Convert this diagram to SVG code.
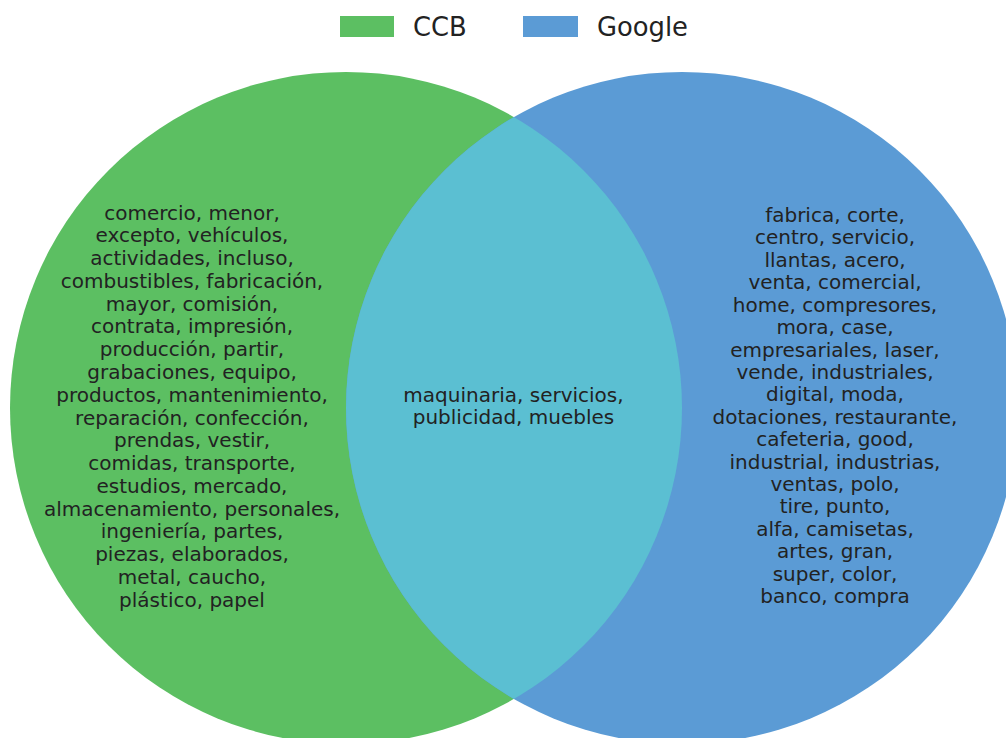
<svg xmlns="http://www.w3.org/2000/svg" width="1006" height="738" viewBox="0 0 1006 738">
  <style>
    .lbl { font-family: "DejaVu Sans", sans-serif; font-size: 20px; fill: #222222; text-anchor: middle; }
    .leg { font-family: "DejaVu Sans", sans-serif; font-size: 25.8px; fill: #222222; }
  </style>
  <defs>
    <clipPath id="clipLeft">
      <circle cx="346" cy="408" r="336"/>
    </clipPath>
  </defs>
  <rect width="1006" height="738" fill="#ffffff"/>

  <!-- legend -->
  <g id="legend">
    <rect x="340" y="16" width="54" height="21" fill="#5cbf62"/>
    <text class="leg" x="413" y="36">CCB</text>
    <rect x="523" y="16" width="55" height="21" fill="#5b9bd5"/>
    <text class="leg" x="597" y="36">Google</text>
  </g>

  <!-- CCB set -->
  <g id="ccb">
    <circle cx="346" cy="408" r="336" fill="#5cbf62"/>
    <g class="lbl">
      <text class="lbl" x="192" y="219.5">comercio, menor,</text>
      <text class="lbl" x="192" y="242.3">excepto, vehículos,</text>
      <text class="lbl" x="192" y="265.1">actividades, incluso,</text>
      <text class="lbl" x="192" y="287.8">combustibles, fabricación,</text>
      <text class="lbl" x="192" y="310.6">mayor, comisión,</text>
      <text class="lbl" x="192" y="333.4">contrata, impresión,</text>
      <text class="lbl" x="192" y="356.2">producción, partir,</text>
      <text class="lbl" x="192" y="378.9">grabaciones, equipo,</text>
      <text class="lbl" x="192" y="401.7">productos, mantenimiento,</text>
      <text class="lbl" x="192" y="424.5">reparación, confección,</text>
      <text class="lbl" x="192" y="447.3">prendas, vestir,</text>
      <text class="lbl" x="192" y="470.1">comidas, transporte,</text>
      <text class="lbl" x="192" y="492.8">estudios, mercado,</text>
      <text class="lbl" x="192" y="515.6">almacenamiento, personales,</text>
      <text class="lbl" x="192" y="538.4">ingeniería, partes,</text>
      <text class="lbl" x="192" y="561.2">piezas, elaborados,</text>
      <text class="lbl" x="192" y="583.9">metal, caucho,</text>
      <text class="lbl" x="192" y="606.7">plástico, papel</text>
    </g>
  </g>

  <!-- Google set -->
  <g id="google">
    <circle cx="682" cy="408" r="336" fill="#5b9bd5"/>
    <g>
      <text class="lbl" x="835" y="222">fabrica, corte,</text>
      <text class="lbl" x="835" y="244.4">centro, servicio,</text>
      <text class="lbl" x="835" y="266.8">llantas, acero,</text>
      <text class="lbl" x="835" y="289.2">venta, comercial,</text>
      <text class="lbl" x="835" y="311.6">home, compresores,</text>
      <text class="lbl" x="835" y="334">mora, case,</text>
      <text class="lbl" x="835" y="356.5">empresariales, laser,</text>
      <text class="lbl" x="835" y="378.9">vende, industriales,</text>
      <text class="lbl" x="835" y="401.3">digital, moda,</text>
      <text class="lbl" x="835" y="423.7">dotaciones, restaurante,</text>
      <text class="lbl" x="835" y="446.1">cafeteria, good,</text>
      <text class="lbl" x="835" y="468.5">industrial, industrias,</text>
      <text class="lbl" x="835" y="490.9">ventas, polo,</text>
      <text class="lbl" x="835" y="513.3">tire, punto,</text>
      <text class="lbl" x="835" y="535.7">alfa, camisetas,</text>
      <text class="lbl" x="835" y="558.1">artes, gran,</text>
      <text class="lbl" x="835" y="580.5">super, color,</text>
      <text class="lbl" x="835" y="603">banco, compra</text>
    </g>
  </g>

  <!-- shared region -->
  <g id="overlap">
    <circle cx="682" cy="408" r="336" fill="#5bbfd2" clip-path="url(#clipLeft)"/>
    <text class="lbl" x="513.5" y="402">maquinaria, servicios,</text>
    <text class="lbl" x="513.5" y="424">publicidad, muebles</text>
  </g>
</svg>
